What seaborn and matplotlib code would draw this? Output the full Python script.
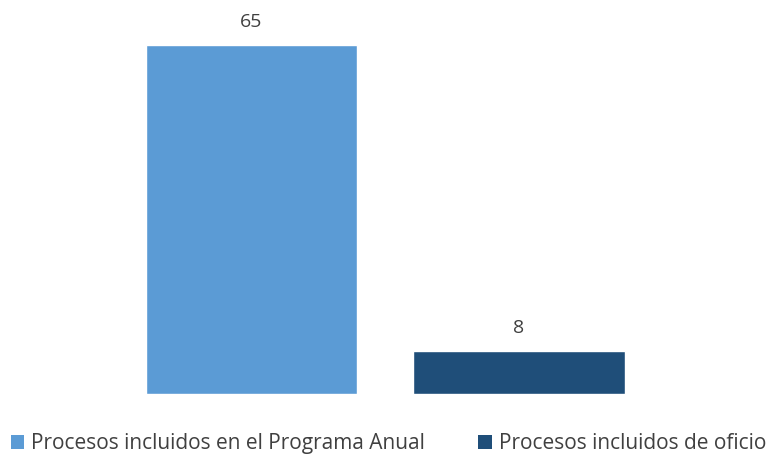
import matplotlib
matplotlib.use("Agg")
import matplotlib.pyplot as plt
import seaborn as sns
import pandas as pd
from matplotlib.patches import Patch

categories = ["Procesos incluidos en el Programa Anual", "Procesos incluidos de oficio"]
values = [65, 8]
colors = ["#5B9BD5", "#1F4E79"]

sns.set_theme(style="white")
plt.rcParams['font.family'] = ['Open Sans', 'DejaVu Sans']

df = pd.DataFrame({"cat": categories, "val": values})

fig = plt.figure(figsize=(7.69, 4.59), dpi=100)
ax = fig.add_axes([0.1531, 0.1416, 0.6957, 0.8188])
sns.barplot(data=df, x="cat", y="val", hue="cat", palette=colors, width=0.789,
            ax=ax, legend=False, saturation=1)
ax.set_xlim(-0.5, 1.5)
ax.set_ylim(0, 70)
for c in ax.containers:
    ax.bar_label(c, labels=[f"{int(round(v))}" for v in c.datavalues], padding=10,
                 fontsize=14, color="#404040")
ax.set_xticks([])
ax.set_yticks([])
ax.set_xlabel("")
ax.set_ylabel("")
for s in ax.spines.values():
    s.set_visible(False)

handles = [Patch(facecolor=col, edgecolor="none") for col in colors]
fig.legend(handles, categories, loc="center", bbox_to_anchor=(0.505, 0.033),
           ncol=2, frameon=False, fontsize=15, labelcolor="#404040",
           handlelength=0.66, handleheight=0.66, handletextpad=0.32,
           columnspacing=2.55)

fig.savefig("out.png", dpi=100)
